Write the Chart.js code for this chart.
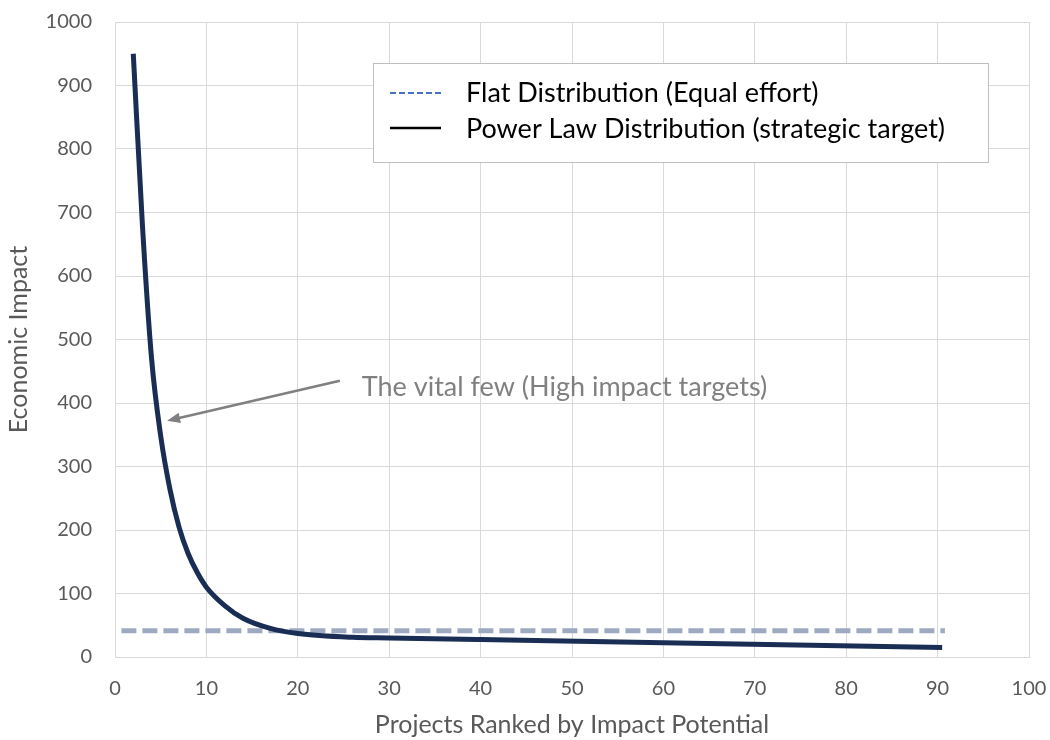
<!DOCTYPE html>
<html>
<head>
<meta charset="utf-8">
<script src="https://cdn.jsdelivr.net/npm/chart.js@4/dist/chart.umd.min.js"></script>
<style>
  html, body { margin: 0; padding: 0; background: #fff; }
  #wrap { width: 1050px; height: 740px; }
</style>
</head>
<body>
<div id="wrap"><canvas id="chartCanvas" width="1050" height="740"></canvas></div>
<script>
// data
const powerX = [2, 3, 4, 5, 6, 7, 8, 9, 10, 12, 14, 17, 20, 26, 30, 40, 60, 90.5];
const powerY = [950, 680, 470, 348, 265, 205, 163, 133, 110, 81, 61, 45, 37, 31, 30, 27.5, 22.5, 15];
const flatX = [0.7, 90.8];
const flatY = [41.5, 41.5];
const xTicks = [0, 10, 20, 30, 40, 50, 60, 70, 80, 90, 100];
const yTicks = [0, 100, 200, 300, 400, 500, 600, 700, 800, 900, 1000];

const flatLabel = "Flat Distribution (Equal effort)";
const powerLabel = "Power Law Distribution (strategic target)";
const noteText = "The vital few (High impact targets)";
// annotation anchors in data units
const noteAt = [27.0, 425];
const arrowFrom = [24.6, 435];
const arrowTo = [5.7, 372];

const FONT = "Lato, 'Open Sans', sans-serif";

const toPoints = (xs, ys) => xs.map((x, i) => ({ x: x, y: ys[i] }));

// legend box + arrow note drawn on the canvas
const extras = {
  id: "extras",
  afterDraw(chart) {
    const ctx = chart.ctx;
    const xs = chart.scales.x, ys = chart.scales.y;

    // note + arrow
    ctx.save();
    const ax = xs.getPixelForValue(arrowFrom[0]), ay = ys.getPixelForValue(arrowFrom[1]);
    const bx = xs.getPixelForValue(arrowTo[0]), by = ys.getPixelForValue(arrowTo[1]);
    const ang = Math.atan2(by - ay, bx - ax);
    const head = 14;
    ctx.strokeStyle = "#808080";
    ctx.fillStyle = "#808080";
    ctx.lineWidth = 2.5;
    ctx.beginPath();
    ctx.moveTo(ax, ay);
    ctx.lineTo(bx - Math.cos(ang) * head * 0.8, by - Math.sin(ang) * head * 0.8);
    ctx.stroke();
    ctx.beginPath();
    ctx.moveTo(bx, by);
    ctx.lineTo(bx - head * Math.cos(ang - 0.38), by - head * Math.sin(ang - 0.38));
    ctx.lineTo(bx - head * Math.cos(ang + 0.38), by - head * Math.sin(ang + 0.38));
    ctx.closePath();
    ctx.fill();
    ctx.font = "27px " + FONT;
    ctx.textBaseline = "middle";
    ctx.fillText(noteText, xs.getPixelForValue(noteAt[0]), ys.getPixelForValue(noteAt[1]));
    ctx.restore();

    // legend
    ctx.save();
    const lx = 373, ly = 63, lw = 615, lh = 99;
    ctx.fillStyle = "#fff";
    ctx.fillRect(lx, ly, lw, lh);
    ctx.strokeStyle = "#BFBFBF";
    ctx.lineWidth = 1;
    ctx.strokeRect(lx + 0.5, ly + 0.5, lw, lh);

    ctx.lineWidth = 2;
    ctx.strokeStyle = "#4472C4";
    ctx.setLineDash([6, 3]);
    ctx.beginPath();
    ctx.moveTo(390, 93);
    ctx.lineTo(441, 93);
    ctx.stroke();
    ctx.setLineDash([]);
    ctx.strokeStyle = "#000";
    ctx.lineWidth = 2.5;
    ctx.beginPath();
    ctx.moveTo(390, 128);
    ctx.lineTo(441, 128);
    ctx.stroke();

    ctx.fillStyle = "#000";
    ctx.font = "27px " + FONT;
    ctx.textBaseline = "middle";
    ctx.fillText(chart.data.datasets[0].label, 466, 93);
    ctx.fillText(chart.data.datasets[1].label, 466, 129);
    ctx.restore();
  }
};

const ctx = document.getElementById("chartCanvas").getContext("2d");
const myChart = new Chart(ctx, {
  type: "scatter",
  data: {
    datasets: [
      {
        label: flatLabel,
        data: toPoints(flatX, flatY),
        showLine: true,
        borderColor: "#9DAAC1",
        borderWidth: 5,
        borderDash: [15, 6],
        pointRadius: 0,
        order: 2
      },
      {
        label: powerLabel,
        data: toPoints(powerX, powerY),
        showLine: true,
        borderColor: "#1A2E55",
        borderWidth: 5,
        cubicInterpolationMode: "monotone",
        pointRadius: 0,
        order: 1
      }
    ]
  },
  options: {
    responsive: false,
    animation: false,
    layout: { padding: { top: 22, right: 21, left: 4, bottom: 0 } },
    plugins: {
      legend: { display: false },
      tooltip: { enabled: false }
    },
    scales: {
      x: {
        type: "linear",
        min: 0,
        max: 100,
        afterBuildTicks(scale) { scale.ticks = xTicks.map(v => ({ value: v })); },
        afterFit(scale) {
          scale.height = 83;
          scale.paddingLeft = 0;
          scale.paddingRight = 0;
        },
        grid: { color: "#D9D9D9", lineWidth: 1, drawTicks: false },
        border: { color: "#D9D9D9" },
        ticks: { color: "#595959", font: { family: FONT, size: 20 }, padding: 20, callback: v => String(v) },
        title: {
          display: true,
          text: "Projects Ranked by Impact Potential",
          color: "#595959",
          font: { family: FONT, size: 25 },
          padding: { top: 4, bottom: 0 }
        }
      },
      y: {
        type: "linear",
        min: 0,
        max: 1000,
        afterBuildTicks(scale) { scale.ticks = yTicks.map(v => ({ value: v })); },
        afterFit(scale) {
          scale.width = 111;
          scale.paddingTop = 0;
          scale.paddingBottom = 0;
        },
        grid: { color: "#D9D9D9", lineWidth: 1, drawTicks: false },
        border: { color: "#D9D9D9" },
        ticks: { color: "#595959", font: { family: FONT, size: 20 }, padding: 23, callback: v => String(v) },
        title: {
          display: true,
          text: "Economic Impact",
          color: "#595959",
          font: { family: FONT, size: 25 },
          padding: { top: 0, bottom: 0 }
        }
      }
    }
  },
  plugins: [extras]
});
</script>
</body>
</html>
